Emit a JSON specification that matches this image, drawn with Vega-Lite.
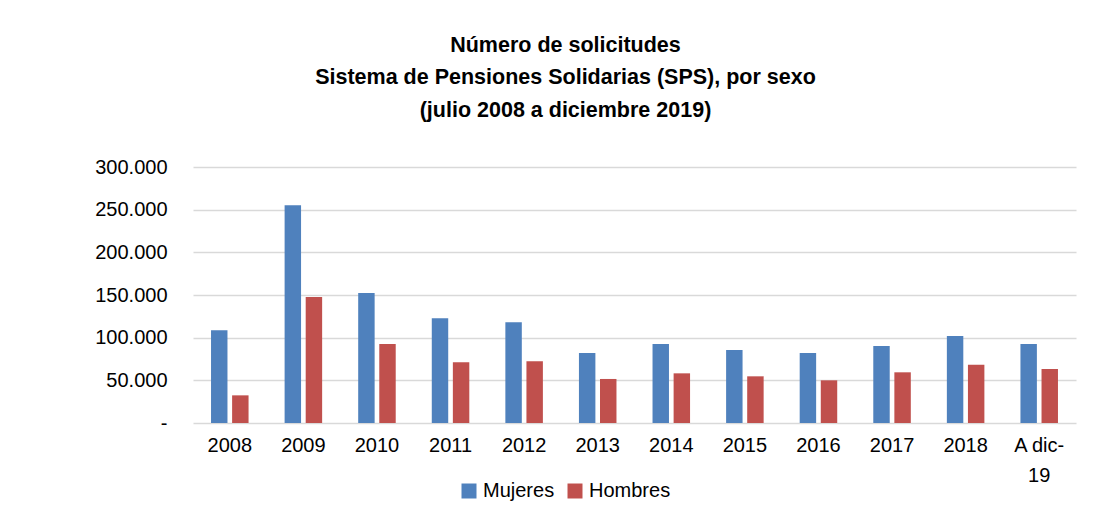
{
  "$schema": "https://vega.github.io/schema/vega-lite/v6.json",
  "width": 883,
  "height": 256,
  "autosize": {"type": "none"},
  "padding": {"left": 193, "top": 167, "right": 18, "bottom": 89},
  "background": "white",
  "title": {
    "text": ["Número de solicitudes", "Sistema de Pensiones Solidarias (SPS), por sexo", "(julio 2008 a diciembre 2019)"],
    "font": "Liberation Sans",
    "fontSize": 21.5,
    "fontWeight": "bold",
    "color": "#000000",
    "lineHeight": 32.5,
    "anchor": "middle",
    "frame": "group",
    "dx": -69,
    "offset": 36
  },
  "data": {
    "values": [
      {"anio": "2008", "sexo": "Mujeres", "valor": 108600},
      {"anio": "2008", "sexo": "Hombres", "valor": 32400},
      {"anio": "2009", "sexo": "Mujeres", "valor": 255100},
      {"anio": "2009", "sexo": "Hombres", "valor": 147700},
      {"anio": "2010", "sexo": "Mujeres", "valor": 152300},
      {"anio": "2010", "sexo": "Hombres", "valor": 92600},
      {"anio": "2011", "sexo": "Mujeres", "valor": 122700},
      {"anio": "2011", "sexo": "Hombres", "valor": 71100},
      {"anio": "2012", "sexo": "Mujeres", "valor": 118000},
      {"anio": "2012", "sexo": "Hombres", "valor": 72300},
      {"anio": "2013", "sexo": "Mujeres", "valor": 82000},
      {"anio": "2013", "sexo": "Hombres", "valor": 51600},
      {"anio": "2014", "sexo": "Mujeres", "valor": 92600},
      {"anio": "2014", "sexo": "Hombres", "valor": 58200},
      {"anio": "2015", "sexo": "Mujeres", "valor": 85500},
      {"anio": "2015", "sexo": "Hombres", "valor": 54700},
      {"anio": "2016", "sexo": "Mujeres", "valor": 82000},
      {"anio": "2016", "sexo": "Hombres", "valor": 50000},
      {"anio": "2017", "sexo": "Mujeres", "valor": 90200},
      {"anio": "2017", "sexo": "Hombres", "valor": 59400},
      {"anio": "2018", "sexo": "Mujeres", "valor": 102000},
      {"anio": "2018", "sexo": "Hombres", "valor": 68400},
      {"anio": "A dic-19", "sexo": "Mujeres", "valor": 92600},
      {"anio": "A dic-19", "sexo": "Hombres", "valor": 63300}
    ]
  },
  "mark": {"type": "bar"},
  "encoding": {
    "x": {
      "field": "anio",
      "type": "nominal",
      "sort": null,
      "scale": {"paddingInner": 0.49, "paddingOuter": 0.245},
      "axis": {
        "title": null,
        "labelAngle": 0,
        "domain": false,
        "ticks": false,
        "labelPadding": 12,
        "labelFont": "Liberation Sans",
        "labelFontSize": 20,
        "labelColor": "#000000",
        "labelLineHeight": 30,
        "labelBaseline": "top",
        "labelExpr": "datum.value == 'A dic-19' ? ['A dic-', '19'] : datum.value"
      }
    },
    "xOffset": {
      "field": "sexo",
      "type": "nominal",
      "sort": ["Mujeres", "Hombres"],
      "scale": {"paddingInner": 0.22, "paddingOuter": 0}
    },
    "y": {
      "field": "valor",
      "type": "quantitative",
      "scale": {"domain": [0, 300000], "nice": false},
      "axis": {
        "title": null,
        "values": [0, 50000, 100000, 150000, 200000, 250000, 300000],
        "domain": false,
        "ticks": false,
        "labelPadding": 26,
        "labelFont": "Liberation Sans",
        "labelFontSize": 20,
        "labelColor": "#000000",
        "gridColor": "#d9d9d9",
        "gridWidth": 1.5,
        "labelExpr": "datum.value == 0 ? '-\u2007' : replace(format(datum.value, ','), ',', '.')"
      }
    },
    "color": {
      "field": "sexo",
      "type": "nominal",
      "sort": ["Mujeres", "Hombres"],
      "scale": {"domain": ["Mujeres", "Hombres"], "range": ["#4f81bd", "#c0504d"]},
      "legend": {
        "title": null,
        "orient": "none",
        "direction": "horizontal",
        "legendX": 266,
        "legendY": 314,
        "symbolType": "square",
        "symbolSize": 225,
        "symbolStrokeWidth": 0,
        "labelFont": "Liberation Sans",
        "labelFontSize": 20,
        "labelColor": "#000000",
        "labelOffset": 4,
        "columnPadding": 10
      }
    }
  },
  "config": {"view": {"stroke": null}}
}
